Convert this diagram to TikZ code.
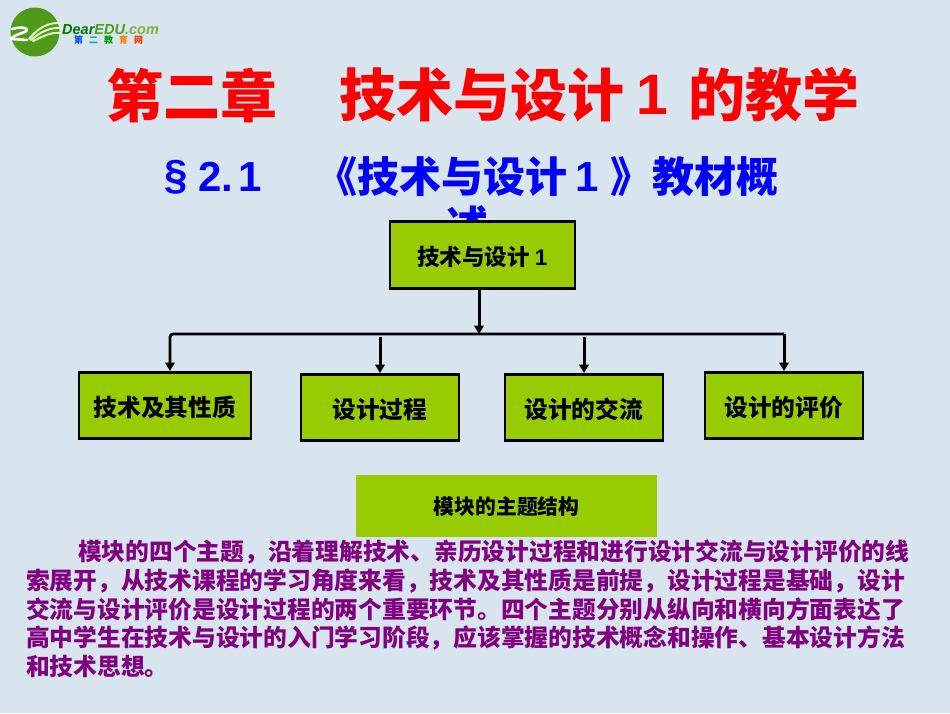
\documentclass[tikz,border=0pt]{standalone}
\usepackage{fontspec}
\setmainfont{Liberation Sans}
\newfontfamily\cjk{Noto Sans CJK SC}
\usetikzlibrary{arrows.meta}
\definecolor{bgc}{HTML}{D8E4EE}
\definecolor{boxg}{HTML}{99CC00}
\definecolor{bodyp}{HTML}{800080}
\definecolor{logog}{HTML}{4E9A1A}
\definecolor{swoosh}{HTML}{E4F2C8}
\tikzset{
 fs/.style={font=\cjk\bfseries\fontsize{#1}{#1}\selectfont},
 ls/.style={font=\bfseries\fontsize{#1}{#1}\selectfont},
 tbox/.style={draw=black,line width=2.6pt,fill=boxg,text=black,inner sep=0pt,anchor=north west,text height=25pt,text depth=3pt},
 bodyline/.style={fs=23.75,text=bodyp,anchor=west,inner sep=0pt},
 conn/.style={line width=3pt,black},
 arr/.style={conn,-{Triangle[length=8.5pt,width=9.5pt]}},
 titlet/.style={text=red,anchor=west,inner sep=0pt},
 subt/.style={text=blue,anchor=west,inner sep=0pt},
 swline/.style={swoosh,line cap=round},
}
\begin{document}
\begin{tikzpicture}[x=1pt,y=-1pt]
\useasboundingbox (0,0) rectangle (950,713);
\fill[bgc] (0,0) rectangle (950,713);
% logo
\fill[logog] (35,32) circle (24.5);
\draw[white,line width=2.6pt,line cap=round,line join=round] (12,29) .. controls (20,27) and (27,27) .. (27,30) .. controls (27,33) and (16,33) .. (11,39) -- (27,40);
\draw[swline,line width=2pt] (29,39) .. controls (38,28) and (48,22) .. (62,23);
\draw[swline,line width=2pt] (31,40) .. controls (40,32) and (50,27) .. (62,28);
\draw[swline,line width=2pt] (33,41) .. controls (42,37) and (50,32) .. (60,33);
\node[anchor=west,inner sep=0pt,font=\bfseries\itshape\fontsize{14.5}{14.5}\selectfont] (logotext) at (62,29.5) {\textcolor{green!45!black}{Dear}\textcolor{logog}{EDU}\textcolor{yellow!50!green!80!black}{.com}};
\node[anchor=west,inner sep=0pt,font=\cjk\bfseries\fontsize{9}{9}\selectfont] (logosub) at (74,40.5) {\textcolor{blue!70!cyan}{第}\hspace{6pt}\textcolor{cyan!60!green}{二}\hspace{6pt}\textcolor{green!60!black}{教}\hspace{6pt}\textcolor{orange}{育}\hspace{6pt}\textcolor{red!60!orange}{网}};
% titles
\node[fs=57,titlet] (t1) at (106,95) {第二章};
\node[fs=57,titlet] (t2) at (339,95) {技术与设计};
\node[ls=57,titlet] (t3) at (636,95) {1};
\node[fs=57,titlet] (t4) at (688,95) {的教学};
\node[ls=42,subt] (s1) at (164,177) {§};
\node[ls=42,subt] (s1b) at (198,177) {2.};
\node[ls=42,subt] (s1c) at (238,177) {1};
\node[fs=42,subt] (s2) at (315,177) {《技术与设计};
\node[ls=42,subt] (s3) at (575,177) {1};
\node[fs=42,subt] (s4) at (610,177) {》教材概};
\node[fs=42,text=blue,inner sep=0pt] (s5) at (467,225) {述};
% boxes
\node[tbox,fs=22.5,minimum width=185pt,minimum height=67pt] (top) at (388.5,220) {技术与设计 \textrm{1}};
\node[tbox,fs=23.7,minimum width=172pt,minimum height=66pt] (b1) at (77.5,371) {技术及其性质};
\node[tbox,fs=23.7,minimum width=158pt,minimum height=66pt] (b2) at (299.5,373) {设计过程};
\node[tbox,fs=23.7,minimum width=158pt,minimum height=66pt] (b3) at (503.5,373) {设计的交流};
\node[tbox,fs=23.7,minimum width=158pt,minimum height=66pt] (b4) at (703.5,371) {设计的评价};
\node[fill=boxg,fs=20.8,text=black,inner sep=0pt,anchor=north west,minimum width=301pt,minimum height=62pt] (cap) at (356,475) {模块的主题结构};
% connectors
\coordinate (j) at (479,334);
\coordinate (c1) at (170,334);
\coordinate (c2) at (380,336.5);
\coordinate (c3) at (584,336.5);
\coordinate (c4) at (784,334);
\draw[arr] (top.south -| j) -- (j);
\draw[arr,line width=2.8pt,rounded corners=3pt] (c4) -- (c1) -- (c1 |- b1.north);
\draw[arr] (c2) -- (c2 |- b2.north);
\draw[arr] (c3) -- (c3 |- b3.north);
\draw[arr] (c4) -- (c4 |- b4.north);
% body
\node[bodyline] (l1) at (78,552) {模块的四个主题，沿着理解技术、亲历设计过程和进行设计交流与设计评价的线};
\node[bodyline] (l2) at (26,581) {索展开，从技术课程的学习角度来看，技术及其性质是前提，设计过程是基础，设计};
\node[bodyline] (l3) at (26,609.5) {交流与设计评价是设计过程的两个重要环节。四个主题分别从纵向和横向方面表达了};
\node[bodyline] (l4) at (26,638) {高中学生在技术与设计的入门学习阶段，应该掌握的技术概念和操作、基本设计方法};
\node[bodyline] (l5) at (26,666.5) {和技术思想。};
\end{tikzpicture}
\end{document}
